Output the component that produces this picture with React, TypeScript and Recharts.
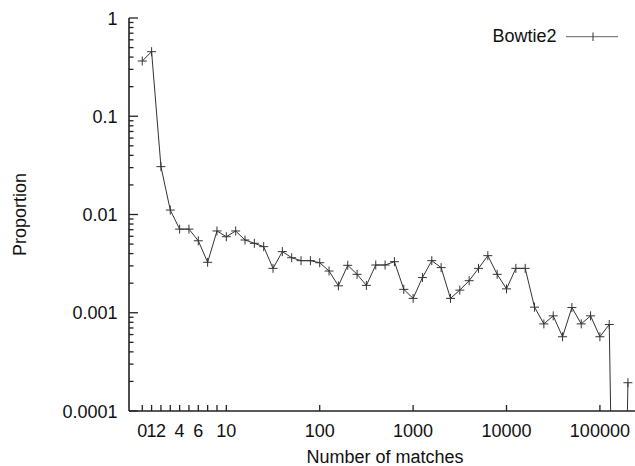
import { LineChart, Line, XAxis, YAxis, Legend } from "recharts";

// bin index -> label shown under the x axis
const binTicks = [0, 1, 2, 4, 6, 9, 19, 29, 39, 49];
const binLabels = ["0", "1", "2", "4", "6", "10", "100", "1000", "10000", "100000"];
const minorBinTicks = [3, 5, 7, 8];

// proportion of reads per bin (bin 51 is ~0, drops off the log axis)
const proportion = [
  0.365, 0.454, 0.0307, 0.0111, 0.0071, 0.0071, 0.0054, 0.00326, 0.0068, 0.00594,
  0.0068, 0.0055, 0.00509, 0.00471, 0.00283, 0.00419, 0.00363, 0.00339, 0.00339, 0.00323,
  0.00266, 0.00188, 0.00304, 0.00246, 0.0019, 0.00306, 0.00306, 0.00331, 0.00173, 0.0014,
  0.00228, 0.00339, 0.00288, 0.0014, 0.0017, 0.00212, 0.00283, 0.00381, 0.00246, 0.00175,
  0.00283, 0.00283, 0.00114, 0.00077, 0.00093, 0.00057, 0.00113, 0.00077, 0.00093, 0.00057,
  0.00076, 1e-9, 0.000194,
];

const yDecades = [0.0001, 0.001, 0.01, 0.1, 1];
const yDecadeLabels = ["0.0001", "0.001", "0.01", "0.1", "1"];

const data = proportion.map((p, i) => ({ bin: i, proportion: p }));

const xTicks = [...binTicks, ...minorBinTicks].sort((a, b) => a - b);
const yTicks = yDecades.flatMap((d) =>
  d === 1 ? [1] : [1, 2, 3, 4, 5, 6, 7, 8, 9].map((k) => k * d)
);

const FONT = "'Liberation Sans', Arial, sans-serif";
const INK = "#222";

const isDecade = (v: number) =>
  Math.abs(Math.log10(v) - Math.round(Math.log10(v))) < 1e-9;

const BottomTick = ({ x, y, payload }: any) => {
  const i = binTicks.indexOf(payload.value);
  return (
    <g>
      <line x1={x} x2={x} y1={y} y2={y - 6} stroke={INK} strokeWidth={1.3} />
      {i >= 0 && (
        <text x={x} y={y + 26} textAnchor="middle" fontFamily={FONT} fontSize={18} fill="#111">
          {binLabels[i]}
        </text>
      )}
    </g>
  );
};

const TopTick = ({ x, y }: any) => (
  <line x1={x} x2={x} y1={y} y2={y + 6} stroke={INK} strokeWidth={1.3} />
);

const LeftTick = ({ x, y, payload }: any) => {
  const major = isDecade(payload.value);
  const i = yDecades.findIndex((d) => Math.abs(d - payload.value) < d * 1e-6);
  return (
    <g>
      <line x1={x} x2={x + (major ? 9 : 4.5)} y1={y} y2={y} stroke={INK} strokeWidth={1.3} />
      {major && i >= 0 && (
        <text x={x - 11.5} y={y + 6.5} textAnchor="end" fontFamily={FONT} fontSize={18} fill="#111">
          {yDecadeLabels[i]}
        </text>
      )}
    </g>
  );
};

const RightTick = ({ x, y, payload }: any) => {
  const major = isDecade(payload.value);
  return <line x1={x} x2={x - (major ? 9 : 4.5)} y1={y} y2={y} stroke={INK} strokeWidth={1.3} />;
};

const PlusDot = (props: any) => {
  const { cx, cy, index } = props;
  if (cx == null || cy == null) return <g key={`d-${index}`} />;
  return (
    <path
      key={`d-${index}`}
      d={`M${cx - 4.5},${cy}h9M${cx},${cy - 4.5}v9`}
      stroke="#333"
      strokeWidth={1}
      fill="none"
    />
  );
};

const XTitle = ({ viewBox }: any) => (
  <text
    x={viewBox.x + viewBox.width / 2}
    y={viewBox.y + 51.5}
    textAnchor="middle"
    fontFamily={FONT}
    fontSize={18}
    fill="#111"
  >
    Number of matches
  </text>
);

const YTitle = ({ viewBox }: any) => {
  const cy = viewBox.y + viewBox.height / 2;
  return (
    <text
      x={26}
      y={cy}
      transform={`rotate(-90, 26, ${cy})`}
      textAnchor="middle"
      fontFamily={FONT}
      fontSize={18}
      fill="#111"
    >
      Proportion
    </text>
  );
};

const LegendBox = () => (
  <svg width={150} height={30} style={{ display: "block" }}>
    <text x={76.5} y={22} textAnchor="end" fontFamily={FONT} fontSize={18} fill="#111">
      Bowtie2
    </text>
    <line x1={86} x2={138} y1={16.7} y2={16.7} stroke="#666" strokeWidth={1} />
    <line x1={113} x2={113} y1={12.5} y2={21} stroke="#333" strokeWidth={1} />
  </svg>
);

export default function App() {
  return (
    <div
      style={{
        position: "absolute",
        left: 0,
        top: 0,
        width: 635,
        height: 466,
        overflow: "hidden",
        background: "#fff",
      }}
    >
      <LineChart
        width={650}
        height={466}
        data={data}
        margin={{ top: 18, right: 9, bottom: 0, left: 0 }}
      >
        <XAxis
          dataKey="bin"
          type="number"
          domain={[-1.42, 53.4]}
          allowDataOverflow
          ticks={xTicks}
          interval={0}
          height={55}
          tickSize={0}
          tickMargin={0}
          tick={<BottomTick />}
          axisLine={{ stroke: INK, strokeWidth: 1.6 }}
          label={<XTitle />}
        />
        <XAxis
          xAxisId="top"
          orientation="top"
          dataKey="bin"
          type="number"
          domain={[-1.42, 53.4]}
          allowDataOverflow
          ticks={xTicks}
          interval={0}
          height={0}
          tickSize={0}
          tickMargin={0}
          tick={<TopTick />}
          axisLine={{ stroke: INK, strokeWidth: 1.6 }}
        />
        <YAxis
          type="number"
          scale="log"
          domain={[0.0001, 1]}
          allowDataOverflow
          ticks={yTicks}
          interval={0}
          width={129}
          tickSize={0}
          tickMargin={0}
          tick={<LeftTick />}
          axisLine={{ stroke: INK, strokeWidth: 1.6 }}
          label={<YTitle />}
        />
        <YAxis
          yAxisId="right"
          orientation="right"
          type="number"
          scale="log"
          domain={[0.0001, 1]}
          allowDataOverflow
          ticks={yTicks}
          interval={0}
          width={0}
          tickSize={0}
          tickMargin={0}
          tick={<RightTick />}
          axisLine={{ stroke: INK, strokeWidth: 1.6 }}
        />
        <Legend
          layout="horizontal"
          verticalAlign="middle"
          align="center"
          content={<LegendBox />}
          wrapperStyle={{ position: "absolute", left: 480, top: 20, width: 150, height: 30 }}
        />
        <Line
          type="linear"
          dataKey="proportion"
          stroke="#333"
          strokeWidth={1}
          dot={PlusDot}
          activeDot={false}
          isAnimationActive={false}
        />
      </LineChart>
    </div>
  );
}
